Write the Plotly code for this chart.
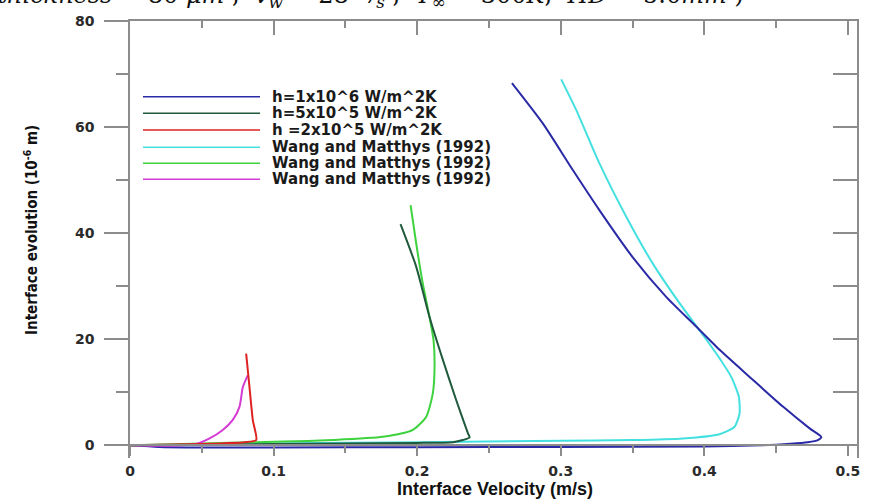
import plotly.graph_objects as go

# ---------------- data ----------------
series_names = [
    "h=1x10^6 W/m^2K",
    "h=5x10^5 W/m^2K",
    "h =2x10^5 W/m^2K",
    "Wang and Matthys (1992)",
    "Wang and Matthys (1992)",
    "Wang and Matthys (1992)",
]
series_colors = ["#2a2aa6", "#1f5a3c", "#dd2222", "#44e0e0", "#3fd23f", "#d43cd4"]

h1e6_x = [0.0, 0.02, 0.05, 0.1, 0.2, 0.3, 0.4, 0.44, 0.46, 0.472, 0.479, 0.4814,
          0.4733, 0.4547, 0.4315, 0.4106, 0.392, 0.3734, 0.350, 0.327, 0.3084, 0.2875, 0.266]
h1e6_y = [0.0, -0.3, -0.4, -0.4, -0.35, -0.3, -0.2, 0.0, 0.3, 0.6, 1.0, 1.6,
          3.2, 7.3, 12.9, 18.0, 23.0, 28.0, 35.5, 44.3, 51.9, 60.7, 68.3]

h5e5_x = [0.0, 0.05, 0.1, 0.15, 0.2, 0.225, 0.2318, 0.2365, 0.2353, 0.2272, 0.2179,
          0.2086, 0.1993, 0.1884]
h5e5_y = [0.0, 0.1, 0.25, 0.35, 0.45, 0.6, 1.0, 1.5, 2.3, 8.5, 16.1, 24.2, 33.7, 41.7]

h2e5_x = [0.0, 0.04, 0.08, 0.0879, 0.0855, 0.0832, 0.0809]
h2e5_y = [0.0, 0.2, 0.6, 1.0, 4.8, 11.0, 17.3]

wang1_x = [0.0, 0.05, 0.1, 0.2, 0.3, 0.35, 0.385, 0.4106, 0.421, 0.4245, 0.424, 0.4187,
           0.4083, 0.3966, 0.3827, 0.364, 0.3456, 0.327, 0.3108, 0.3003]
wang1_y = [0.0, 0.2, 0.35, 0.6, 0.85, 1.0, 1.3, 2.1, 3.5, 6.0, 9.2, 12.9,
           17.3, 21.7, 26.8, 34.3, 43.1, 53.1, 63.2, 69.0]

wang2_x = [0.0, 0.03, 0.07, 0.1064, 0.141, 0.176, 0.197, 0.2063, 0.2109, 0.2121, 0.2114,
           0.2086, 0.2039, 0.1993, 0.1954]
wang2_y = [0.0, 0.2, 0.5, 0.7, 1.0, 1.6, 2.9, 5.4, 9.8, 14.8, 19.8, 24.2, 30.5, 38.1, 45.3]

wang3_x = [0.0, 0.01, 0.025, 0.046, 0.0554, 0.0646, 0.0716, 0.0763, 0.0786, 0.082]
wang3_y = [0.0, -0.05, -0.1, 0.25, 1.3, 2.9, 4.8, 7.3, 11.0, 13.2]

x_ticks = [0, 0.1, 0.2, 0.3, 0.4, 0.5]
x_ticktext = ["0", "0.1", "0.2", "0.3", "0.4", "0.5"]
y_ticks = [0, 20, 40, 60, 80]

x_title = "Interface Velocity (m/s)"
y_title = "Interface evolution (10<sup>-6</sup> m)"
caption = ("(<i>thickness</i> = 80 <i>μm</i> ,  <i>v</i><sub><i>w</i></sub> = 28 "
           "<sup><i>m</i></sup>⁄<sub><i>s</i></sub> ,  <i>T</i><sub>∞</sub> = 300<i>K</i>,  "
           "<i>HD</i> = 5.0<i>mm</i> )")

all_x = [h1e6_x, h5e5_x, h2e5_x, wang1_x, wang2_x, wang3_x]
all_y = [h1e6_y, h5e5_y, h2e5_y, wang1_y, wang2_y, wang3_y]

# ---------------- layout geometry ----------------
W, H = 872, 503
ML, MR, MT, MB = 130, 15, 21, 45
PW, PH = W - ML - MR, H - MT - MB
X_RANGE = [0, 0.5063]
Y_RANGE = [-2.39, 80]


def px_x(px):
    return (px - ML) / PW


def px_y(py):
    return (H - MB - py) / PH


fig = go.Figure()

draw_order = [3, 0, 4, 1, 5, 2]
for i in draw_order:
    fig.add_trace(go.Scatter(
        x=all_x[i], y=all_y[i], mode="lines", name=series_names[i],
        line=dict(color=series_colors[i], width=2, shape="spline", smoothing=0.6),
        showlegend=False, hoverinfo="skip"))

axis_col = "#8c8c8c"
tick_font = dict(family="DejaVu Sans, Liberation Sans, sans-serif", size=14, color="#2a2a2a", weight="bold")

fig.update_layout(
    width=W, height=H,
    margin=dict(l=ML, r=MR, t=MT, b=MB, pad=0, autoexpand=False),
    paper_bgcolor="white", plot_bgcolor="white",
    showlegend=False,
    xaxis=dict(
        range=X_RANGE, anchor="free", position=(0 - Y_RANGE[0]) / (Y_RANGE[1] - Y_RANGE[0]),
        automargin=False,
        showgrid=False, zeroline=False, showline=True, linecolor=axis_col, linewidth=1.5,
        tickmode="array", tickvals=x_ticks, ticktext=x_ticktext,
        ticks="outside", ticklen=10, tickwidth=1.5, tickcolor=axis_col,
        minor=dict(dtick=0.05, tick0=0, ticks="outside", ticklen=7, tickwidth=1.5, tickcolor=axis_col),
        tickfont=tick_font, ticklabelstandoff=3,
    ),
    xaxis2=dict(
        range=X_RANGE, overlaying="x", side="top", anchor="y", matches="x", automargin=False,
        showgrid=False, zeroline=False, showline=True, linecolor=axis_col, linewidth=1.5,
        tickmode="linear", tick0=0, dtick=0.1, ticks="inside", ticklen=14, tickwidth=1.5,
        tickcolor=axis_col, showticklabels=False,
        minor=dict(dtick=0.05, tick0=0, ticks="inside", ticklen=7, tickwidth=1.5, tickcolor=axis_col),
    ),
    yaxis=dict(
        range=Y_RANGE, automargin=False,
        showgrid=False, zeroline=True, zerolinecolor=axis_col, zerolinewidth=1.5,
        showline=True, linecolor=axis_col, linewidth=1.5,
        tickmode="array", tickvals=y_ticks,
        ticks="outside", ticklen=24, tickwidth=1.5, tickcolor=axis_col,
        minor=dict(dtick=10, tick0=0, ticks="outside", ticklen=12, tickwidth=1.5, tickcolor=axis_col),
        tickfont=tick_font, ticklabelstandoff=7,
    ),
    yaxis2=dict(
        range=Y_RANGE, overlaying="y", side="right", anchor="x", matches="y", automargin=False,
        showgrid=False, zeroline=False, showline=True, linecolor=axis_col, linewidth=1.5,
        tickmode="linear", tick0=0, dtick=10, ticks="inside", ticklen=24, tickwidth=1.5,
        tickcolor=axis_col, showticklabels=False,
    ),
)

# invisible trace so the secondary (frame) axes are drawn
fig.add_trace(go.Scatter(x=[None], y=[None], xaxis="x2", yaxis="y2", showlegend=False))

annotations = []
# axis titles
annotations.append(dict(
    text=x_title, xref="paper", yref="paper", x=px_x(495), y=px_y(489),
    xanchor="center", yanchor="middle", showarrow=False,
    font=dict(family="Liberation Sans, Arial, sans-serif", size=18, color="#111111", weight="bold")))
annotations.append(dict(
    text=y_title, xref="paper", yref="paper", x=px_x(31), y=px_y(230), textangle=-90,
    xanchor="center", yanchor="middle", showarrow=False,
    font=dict(family="Liberation Sans Narrow, DejaVu Sans Condensed, Arial Narrow, sans-serif",
              size=15, color="#111111", weight="bold")))
# cropped caption at the very top
annotations.append(dict(
    text=caption, xref="paper", yref="paper", x=px_x(-14), y=px_y(-6),
    xanchor="left", yanchor="middle", showarrow=False,
    font=dict(family="DejaVu Serif, Liberation Serif, serif", size=24, color="#111111")))

# manual legend
legend_rows = [96.7, 113.3, 130, 147.3, 163.3, 179.3]
shapes = []
for i, ry in enumerate(legend_rows):
    shapes.append(dict(type="line", xref="paper", yref="paper",
                       x0=px_x(143), x1=px_x(260), y0=px_y(ry), y1=px_y(ry),
                       line=dict(color=series_colors[i], width=1.6)))
    annotations.append(dict(
        text=series_names[i], xref="paper", yref="paper", x=px_x(270), y=px_y(ry),
        xanchor="left", yanchor="middle", showarrow=False,
        font=dict(family="DejaVu Sans, sans-serif", size=15, color="#1a1a1a", weight="bold")))

fig.update_layout(annotations=annotations, shapes=shapes)

fig.write_html("out.html", post_script="document.body.style.margin='0px';",
               config={"displayModeBar": False})
